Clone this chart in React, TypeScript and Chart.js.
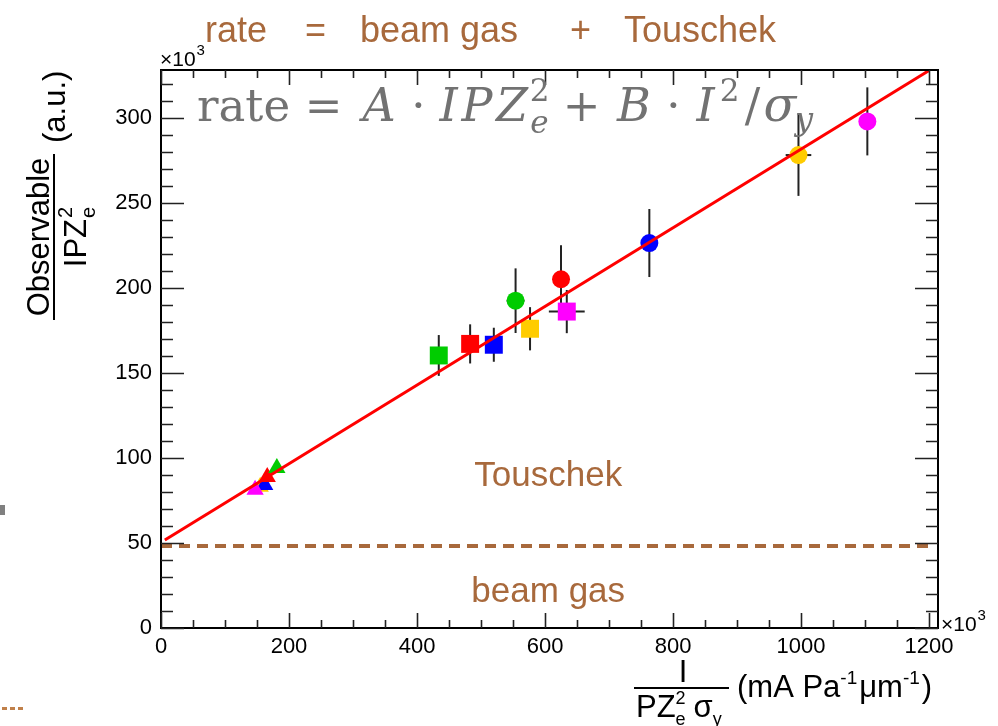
import React, { useEffect, useRef } from 'react';
import { Chart, registerables } from 'chart.js';

Chart.register(...registerables);

const BROWN = '#A8693C';
const GRAY_FORMULA = '#727272';

// axis ranges and tick labels
const xRange = [0, 1214];
const yRange = [0, 328];
const xTickValues = [0, 200, 400, 600, 800, 1000, 1200];
const yTickValues = [0, 50, 100, 150, 200, 250, 300];

// triangles (low current points)
const triX = [155, 162, 166, 181, 147];
const triY = [83, 84, 88.8, 94, 81.2];
const triColors = ['#ffcc00', '#0000ff', '#ff0000', '#00cc00', '#ff00ff'];

// squares
const sqX = [434, 483, 520, 576.6, 634];
const sqY = [160.2, 167, 166.5, 175.9, 186];
const sqYErr = [12, 11.5, 10, 12.7, 12.7];
const sqXErr = [0, 0, 0, 0, 28];
const sqColors = ['#00cc00', '#ff0000', '#0000ff', '#ffcc00', '#ff00ff'];

// circles
const circX = [554, 625, 763, 996, 1103.6];
const circY = [192.4, 205, 226.3, 278, 297.8];
const circYErr = [19, 20, 20, 24, 20];
const circXErr = [14, 0, 0, 20, 0];
const circColors = ['#00cc00', '#ff0000', '#0000ff', '#ffcc00', '#ff00ff'];

// fit line and beam-gas level
const fitX = [6, 1200];
const fitY = [51.7, 327.7];
const gasX = [0, 1200];
const gasY = [48.2, 48.2];

// in-plot labels (data coordinates)
const labelTouschek = { x: 605, y: 89, text: 'Touschek' };
const labelGas = { x: 605, y: 21, text: 'beam gas' };

const pts = (xs: number[], ys: number[]) => xs.map((v, i) => ({ x: v, y: ys[i] }));

const SANS = '"Liberation Sans", Arial, Helvetica, sans-serif';
const SERIF = '"DejaVu Serif", "Liberation Serif", serif';

const rootPlugin = {
  id: 'rootStyle',
  beforeDraw(chart: any) {
    const { ctx, width, height } = chart;
    ctx.save();
    ctx.fillStyle = '#ffffff';
    ctx.fillRect(0, 0, width, height);
    ctx.restore();
  },
  beforeDatasetsDraw(chart: any) {
    const { ctx } = chart;
    const x = chart.scales.x;
    const y = chart.scales.y;
    ctx.save();
    ctx.strokeStyle = '#222222';
    ctx.lineWidth = 2;
    const bars = (xs: number[], ys: number[], ex: number[], ey: number[]) => {
      for (let i = 0; i < xs.length; i++) {
        const px = x.getPixelForValue(xs[i]);
        const py = y.getPixelForValue(ys[i]);
        if (ey[i]) {
          ctx.beginPath();
          ctx.moveTo(px, y.getPixelForValue(ys[i] - ey[i]));
          ctx.lineTo(px, y.getPixelForValue(ys[i] + ey[i]));
          ctx.stroke();
        }
        if (ex[i]) {
          ctx.beginPath();
          ctx.moveTo(x.getPixelForValue(xs[i] - ex[i]), py);
          ctx.lineTo(x.getPixelForValue(xs[i] + ex[i]), py);
          ctx.stroke();
        }
      }
    };
    bars(sqX, sqY, sqXErr, sqYErr);
    bars(circX, circY, circXErr, circYErr);
    ctx.restore();
  },
  afterDatasetsDraw(chart: any) {
    const { ctx, chartArea: ca } = chart;
    const x = chart.scales.x;
    const y = chart.scales.y;
    ctx.save();
    // frame
    ctx.strokeStyle = '#000';
    ctx.lineWidth = 2;
    ctx.strokeRect(ca.left, ca.top, ca.right - ca.left, ca.bottom - ca.top);
    // ticks
    ctx.lineWidth = 1.6;
    ctx.strokeStyle = '#222';
    for (let v = 0; v <= xRange[1]; v += 50) {
      const px = Math.round(x.getPixelForValue(v)) + 0.5;
      const len = v % 200 === 0 ? 15 : 8;
      ctx.beginPath();
      ctx.moveTo(px, ca.bottom);
      ctx.lineTo(px, ca.bottom - len);
      ctx.moveTo(px, ca.top);
      ctx.lineTo(px, ca.top + len);
      ctx.stroke();
    }
    for (let v = 0; v <= yRange[1]; v += 10) {
      const py = Math.round(y.getPixelForValue(v)) + 0.5;
      const len = v % 50 === 0 ? 23 : 12;
      ctx.beginPath();
      ctx.moveTo(ca.left, py);
      ctx.lineTo(ca.left + len, py);
      ctx.moveTo(ca.right, py);
      ctx.lineTo(ca.right - len, py);
      ctx.stroke();
    }

    // x10^3 labels
    ctx.fillStyle = '#000';
    ctx.textAlign = 'left';
    ctx.textBaseline = 'alphabetic';
    const times3 = (x0: number, base: number) => {
      ctx.font = '21px ' + SANS;
      ctx.fillText('\u00d710', x0, base);
      const w = ctx.measureText('\u00d710').width;
      ctx.font = '15px ' + SANS;
      ctx.fillText('3', x0 + w + 1, base - 11);
    };
    times3(ca.left - 1, ca.top - 4);
    times3(ca.right + 3, ca.bottom + 3);

    // in-plot brown labels
    ctx.fillStyle = BROWN;
    ctx.textAlign = 'center';
    ctx.textBaseline = 'middle';
    ctx.font = '35px ' + SANS;
    ctx.fillText(labelTouschek.text, x.getPixelForValue(labelTouschek.x), y.getPixelForValue(labelTouschek.y));
    ctx.fillText(labelGas.text, x.getPixelForValue(labelGas.x), y.getPixelForValue(labelGas.y));

    // top title
    ctx.textAlign = 'left';
    ctx.textBaseline = 'alphabetic';
    ctx.font = '36px ' + SANS;
    ctx.fillText('rate', 205, 42);
    ctx.fillText('=', 305, 42);
    ctx.fillText('beam gas', 360, 42);
    ctx.fillText('+', 570, 42);
    ctx.fillText('Touschek', 624, 42);

    // formula (TeX-like layout: each glyph centred in its box)
    ctx.fillStyle = GRAY_FORMULA;
    const base = 121;
    const box = (t: string, x0: number, w: number, style: string, size: number, dy = 0) => {
      ctx.font = `${style} ${size}px ${SERIF}`;
      ctx.textAlign = 'center';
      ctx.fillText(t, x0 + w / 2, base + dy);
    };
    ctx.font = `normal 45px ${SERIF}`;
    ctx.textAlign = 'left';
    ctx.fillText('rate', 197, base);
    box('=', 303, 41, 'normal', 45);
    box('A', 359, 40, 'italic', 46);
    box('\u00b7', 411, 15, 'normal', 45);
    box('I', 437, 23, 'italic', 46);
    box('P', 460, 34, 'italic', 46);
    box('Z', 494, 36, 'italic', 46);
    box('2', 530, 19, 'normal', 31, -20);
    box('e', 530, 19, 'italic', 31, 12);
    box('+', 561, 41, 'normal', 45);
    box('B', 614, 40, 'italic', 46);
    box('\u00b7', 666, 15, 'normal', 45);
    box('I', 693, 25, 'italic', 46);
    box('2', 720, 19, 'normal', 31, -20);
    box('/', 739, 27, 'normal', 46);
    box('\u03c3', 765, 30, 'italic', 48);
    box('y', 795, 18, 'italic', 32, 9);
    ctx.textAlign = 'left';

    // y-axis title (rotated)
    ctx.fillStyle = '#000';
    ctx.save();
    ctx.translate(54, 320);
    ctx.rotate(-Math.PI / 2);
    ctx.font = '31px ' + SANS;
    ctx.textAlign = 'center';
    ctx.fillText('Observable', 83, -5);
    ctx.fillRect(0, -1, 166, 2);
    ctx.textAlign = 'left';
    ctx.font = '31px ' + SANS;
    const wIPZ = ctx.measureText('IPZ').width;
    ctx.font = '20px ' + SANS;
    const wTwo = ctx.measureText('2').width;
    const st = 83 - (wIPZ + wTwo + 1) / 2;
    ctx.font = '31px ' + SANS;
    ctx.fillText('IPZ', st, 32);
    ctx.font = '20px ' + SANS;
    ctx.fillText('2', st + wIPZ + 1, 18);
    ctx.fillText('e', st + wIPZ + 1, 41);
    ctx.font = '31px ' + SANS;
    ctx.fillText('(a.u.)', 177, 11);
    ctx.restore();

    // x-axis title
    ctx.fillStyle = '#000';
    ctx.fillRect(634, 687, 95, 2);
    ctx.textAlign = 'center';
    ctx.font = '31px ' + SANS;
    ctx.fillText('I', 683, 682);
    ctx.textAlign = 'left';
    let tx = 636;
    const xb = 717;
    const xput = (t: string, size: number, dy = 0, advance = true) => {
      ctx.font = `${size}px ${SANS}`;
      ctx.fillText(t, tx, xb + dy);
      const w = ctx.measureText(t).width;
      if (advance) tx += w;
      return w;
    };
    xput('PZ', 31);
    const w2 = xput('2', 18, -13, false);
    const we = xput('e', 18, 8, false);
    tx += Math.max(w2, we) + 8;
    xput('\u03c3', 31);
    xput('y', 18, 8);
    // units
    let ux = 737;
    const ub = 697;
    const uput = (t: string, size: number, dy = 0, gap = 0) => {
      ctx.font = `${size}px ${SANS}`;
      ctx.fillText(t, ux, ub + dy);
      ux += ctx.measureText(t).width + gap;
    };
    uput('(mA Pa', 31);
    uput('-1', 19, -13, 2);
    uput('\u03bcm', 31);
    uput('-1', 19, -13, 2);
    uput(')', 31);

    // cropped fragments at the left edge of the original picture
    ctx.fillStyle = '#808080';
    ctx.fillRect(0, 505, 5, 10);
    ctx.fillStyle = '#c0804a';
    ctx.fillRect(2, 707, 5, 3);
    ctx.fillRect(10, 707, 5, 3);
    ctx.fillRect(18, 707, 5, 3);
    ctx.restore();
  },
};

export default function App() {
  const ref = useRef<HTMLCanvasElement | null>(null);
  useEffect(() => {
    if (!ref.current) return;
    const markerDs = (xs: number[], ys: number[], colors: string[], style: string, r: number) => ({
      type: 'scatter',
      data: pts(xs, ys),
      pointStyle: style,
      pointRadius: r,
      pointHoverRadius: r,
      pointBackgroundColor: colors,
      pointBorderColor: colors,
      pointBorderWidth: 0,
      showLine: false,
      order: 1,
    });
    const chart = new Chart(ref.current, {
      type: 'scatter',
      data: {
        datasets: [
          {
            type: 'line',
            data: pts(fitX, fitY),
            borderColor: '#ff0000',
            borderWidth: 3,
            pointRadius: 0,
            fill: false,
            tension: 0,
            order: 0,
          } as any,
          markerDs(triX, triY, triColors, 'triangle', 10) as any,
          markerDs(sqX, sqY, sqColors, 'rect', 12.7) as any,
          markerDs(circX, circY, circColors, 'circle', 9) as any,
          {
            type: 'line',
            data: pts(gasX, gasY),
            borderColor: BROWN,
            borderWidth: 4,
            borderDash: [11, 7],
            pointRadius: 0,
            fill: false,
            order: 3,
          } as any,
        ],
      },
      options: {
        responsive: false,
        animation: false,
        devicePixelRatio: 1,
        events: [],
        layout: { padding: { left: 0, right: 60, top: 70, bottom: 0 } },
        plugins: { legend: { display: false }, tooltip: { enabled: false } },
        scales: {
          x: {
            type: 'linear',
            min: xRange[0],
            max: xRange[1],
            afterFit: (s: any) => {
              s.height = 98;
            },
            afterBuildTicks: (s: any) => {
              s.ticks = xTickValues.map((v) => ({ value: v }));
            },
            ticks: {
              color: '#000',
              font: { family: SANS, size: 22 },
              padding: 6,
              maxRotation: 0,
              autoSkip: false,
              callback: (v: any) => String(v),
            },
            grid: { display: false, drawTicks: false },
            border: { display: false },
          },
          y: {
            type: 'linear',
            min: yRange[0],
            max: yRange[1],
            afterFit: (s: any) => {
              s.width = 161;
            },
            afterBuildTicks: (s: any) => {
              s.ticks = yTickValues.map((v) => ({ value: v }));
            },
            ticks: {
              color: '#000',
              font: { family: SANS, size: 22 },
              padding: 9,
              autoSkip: false,
              callback: (v: any) => String(v),
            },
            grid: { display: false, drawTicks: false },
            border: { display: false },
          },
        },
      } as any,
      plugins: [rootPlugin as any],
    });
    return () => chart.destroy();
  }, []);
  return (
    <div style={{ position: 'fixed', left: 0, top: 0, width: 998, height: 726, background: '#fff' }}>
      <canvas ref={ref} width={998} height={726} style={{ display: 'block', width: 998, height: 726 }} />
    </div>
  );
}
